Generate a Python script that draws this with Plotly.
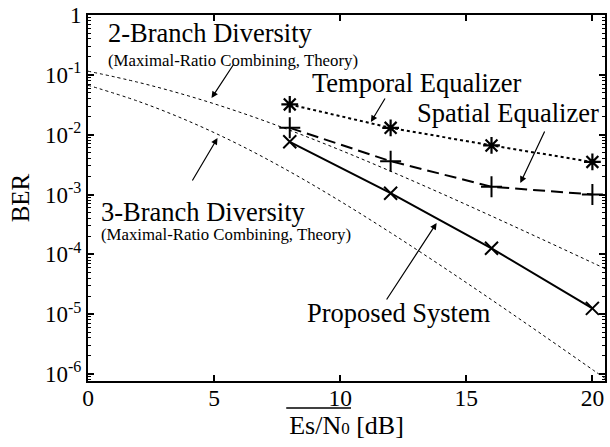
import plotly.graph_objects as go

# Average Es/N0 [dB] grid for the theoretical MRC curves
theory_snr = [0, 2, 4, 6, 8, 10, 12, 14, 16, 18, 20, 20.5]
ber_2branch = [0.1151, 0.07481, 0.04424, 0.02388, 0.01187, 0.005528,
               0.002448, 0.001046, 4.361e-4, 1.788e-4, 7.256e-5, 5.784e-5]
ber_3branch = [0.06699, 0.03601, 0.01673, 0.006771, 0.002410, 7.737e-4,
               2.297e-4, 6.449e-5, 1.742e-5, 4.585e-6, 1.187e-6, 8.448e-7]

# Simulated systems
sim_snr = [8, 12, 16, 20]
ber_temporal = [0.032, 0.013, 0.0066, 0.0035]
ber_spatial = [0.013, 0.0036, 0.00135, 0.001]
ber_proposed = [0.0076, 0.00105, 1.26e-4, 1.25e-5]

x_ticks = [0, 5, 10, 15, 20]
y_tick_vals = [1, 1e-1, 1e-2, 1e-3, 1e-4, 1e-5, 1e-6]
y_tick_text = ["1", "10<sup>-1</sup>", "10<sup>-2</sup>", "10<sup>-3</sup>",
               "10<sup>-4</sup>", "10<sup>-5</sup>", "10<sup>-6</sup>"]
y_minor_vals = [m * 10.0 ** e for e in range(-7, 0) for m in range(2, 10)]

FONT = "Liberation Serif, Times New Roman, serif"
W, H = 610, 447
L, R, T, B = 88, 3, 15, 66
PW, PH = W - L - R, H - T - B


def fx(p):
    return (p - L) / PW


def fy(p):
    return (H - B - p) / PH


fig = go.Figure()

fig.add_trace(go.Scatter(x=theory_snr, y=ber_2branch, mode="lines",
                         line=dict(color="black", width=1, dash="dot", shape="spline")))
fig.add_trace(go.Scatter(x=theory_snr, y=ber_3branch, mode="lines",
                         line=dict(color="black", width=1, dash="dot", shape="spline")))
fig.add_trace(go.Scatter(x=sim_snr, y=ber_temporal, mode="lines+markers",
                         line=dict(color="black", width=2, dash="dot"),
                         marker=dict(symbol="asterisk-open", size=14,
                                     line=dict(color="black", width=2.2))))
fig.add_trace(go.Scatter(x=sim_snr, y=ber_spatial, mode="lines+markers",
                         line=dict(color="black", width=2, dash="12px,6px"),
                         marker=dict(symbol="cross-thin-open", size=15,
                                     line=dict(color="black", width=2))))
fig.add_trace(go.Scatter(x=sim_snr, y=ber_proposed, mode="lines+markers",
                         line=dict(color="black", width=2),
                         marker=dict(symbol="x-thin-open", size=13,
                                     line=dict(color="black", width=2))))

# minor log ticks on an overlaid axis
fig.add_trace(go.Scatter(x=[None], y=[None], yaxis="y2", showlegend=False))

labels = [
    ("2-Branch Diversity", 106, 33, 26.5),
    ("(Maximal-Ratio Combining, Theory)", 106, 60, 16.8),
    ("Temporal Equalizer", 311, 83, 26.5),
    ("Spatial Equalizer", 416, 113, 26.5),
    ("3-Branch Diversity", 99, 212, 26.5),
    ("(Maximal-Ratio Combining, Theory)", 99, 234, 16.8),
    ("Proposed System", 306, 313, 26.5),
]
for text, px, py, size in labels:
    fig.add_annotation(text=text, xref="paper", yref="paper", x=fx(px), y=fy(py),
                       xanchor="left", yanchor="middle", showarrow=False,
                       font=dict(family=FONT, size=size, color="black"))

arrows = [
    ((212, 98), (235, 63)),
    ((218, 138), (192, 182)),
    ((372, 122), (387, 97)),
    ((522, 183), (547, 130)),
    ((438, 223), (387, 301)),
]
for (tx, ty), (sx, sy) in arrows:
    fig.add_annotation(text="", xref="paper", yref="paper", x=fx(tx), y=fy(ty),
                       ax=sx - tx, ay=sy - ty, showarrow=True, arrowhead=2,
                       arrowsize=1.1, arrowwidth=1.2, arrowcolor="black")

# overline on the average SNR symbol
fig.add_shape(type="line", xref="paper", yref="paper",
              x0=fx(287), x1=fx(352), y0=fy(408), y1=fy(408),
              line=dict(color="black", width=1.5))

fig.update_layout(
    width=W, height=H, margin=dict(l=L, r=R, t=T, b=B, pad=0),
    paper_bgcolor="white", plot_bgcolor="white", showlegend=False,
    font=dict(family=FONT, size=23, color="black"),
    xaxis=dict(range=[0, 20.5], tickvals=x_ticks, ticks="inside", ticklen=6,
               tickwidth=1.5, tickcolor="black", showline=True, linewidth=2,
               linecolor="black", mirror="ticks", showgrid=False, zeroline=False,
               tickfont=dict(family=FONT, size=23.5), ticklabelstandoff=-5,
               title=dict(text="Es/N<span style='font-size:17px'>0</span> [dB]",
                          font=dict(family=FONT, size=26), standoff=0)),
    yaxis=dict(type="log", range=[-6.117, 0], tickvals=y_tick_vals,
               ticktext=y_tick_text, ticks="inside", ticklen=6, tickwidth=1.5,
               tickcolor="black", showline=True, linewidth=2, linecolor="black",
               mirror="ticks", showgrid=False, zeroline=False,
               tickfont=dict(family=FONT, size=23),
               title=dict(text="BER", font=dict(family=FONT, size=25), standoff=8)),
    yaxis2=dict(type="log", range=[-6.117, 0], overlaying="y", tickvals=y_minor_vals,
                ticks="inside", ticklen=3, tickwidth=1, tickcolor="black",
                showticklabels=False, showgrid=False, zeroline=False, mirror="ticks",
                showline=False, anchor="x"),
)

fig.write_html("out.html")
